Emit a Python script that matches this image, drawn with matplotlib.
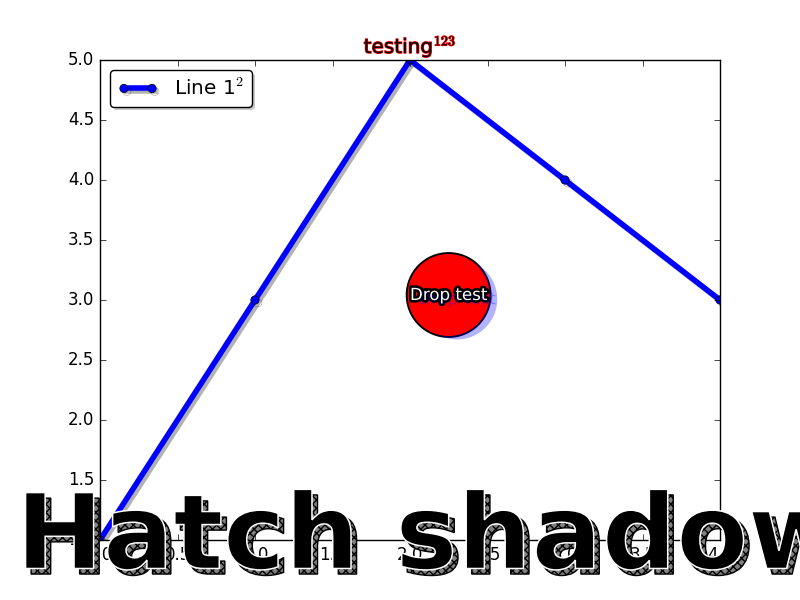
import matplotlib
matplotlib.use('Agg')
import matplotlib.pyplot as plt
import matplotlib.patheffects as path_effects

# data
y_vals = [1, 3, 5, 4, 3]
line_label = r'Line 1$^2$'
title_text = r'testing$^{123}$'
drop_text = 'Drop test'
drop_pos = (2, 3)
big_text = 'Hatch shadow'

plt.style.use('classic')
fig = plt.figure(figsize=(8, 6), dpi=100)

p1, = plt.plot(y_vals, 'o-b', lw=4)
p1.set_path_effects([path_effects.SimpleLineShadow(),
                     path_effects.Normal()])
plt.title(title_text,
          path_effects=[path_effects.withStroke(linewidth=1, foreground="r")])
leg = plt.legend([p1], [line_label], fancybox=True, loc='upper left')
leg.legendPatch.set_path_effects([path_effects.withSimplePatchShadow()])

text = plt.text(drop_pos[0], drop_pos[1], drop_text, color='white',
                bbox={'boxstyle': 'circle,pad=0.1', 'color': 'red'})
pe = [path_effects.Stroke(linewidth=3.75, foreground='k'),
      path_effects.withSimplePatchShadow((6, -3), shadow_rgbFace='blue')]
text.set_path_effects(pe)
text.get_bbox_patch().set_path_effects(pe)

pe = [path_effects.PathPatchEffect(offset=(4, -4), hatch='xxxx',
                                   facecolor='gray'),
      path_effects.PathPatchEffect(edgecolor='white', facecolor='black',
                                   lw=1.1)]

t = fig.text(0.02, 0.1, big_text, fontsize=75, weight=1000, va='center')
t.set_path_effects(pe)

plt.savefig('out.png', dpi=100)
